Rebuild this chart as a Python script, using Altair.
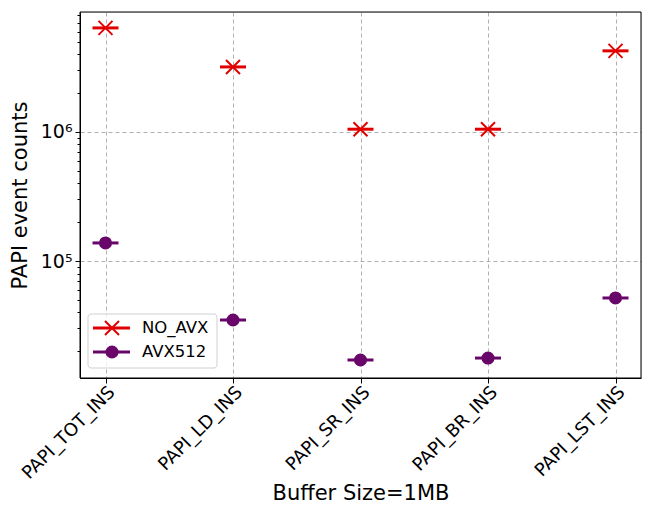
import altair as alt
import pandas as pd

categories = ["PAPI_TOT_INS", "PAPI_LD_INS", "PAPI_SR_INS", "PAPI_BR_INS", "PAPI_LST_INS"]
no_avx = [6.4e6, 3.19e6, 1.05e6, 1.05e6, 4.25e6]
avx512 = [1.38e5, 3.49e4, 1.71e4, 1.77e4, 5.17e4]
series = ["NO_AVX", "AVX512"]
colors = ["#e00000", "#690669"]

major_ticks = [1e5, 1e6]
minor_ticks = [m * 10 ** k for k in (4, 5, 6) for m in range(2, 10) if m * 10 ** k < 8.5e6]
y_domain = [1.24e4, 8.5e6]

rows = []
for c, v in zip(categories, no_avx):
    rows.append({"cat": c, "val": v, "series": series[0]})
for c, v in zip(categories, avx512):
    rows.append({"cat": c, "val": v, "series": series[1]})
df = pd.DataFrame(rows)

W, H = 561, 366
FONT = "DejaVu Sans"

xenc = alt.X("cat:N", sort=categories,
             scale=alt.Scale(type="point", padding=0.2),
             axis=alt.Axis(title="Buffer Size=1MB", labelAngle=-45, labelAlign="right",
                           labelBaseline="top", labelFontSize=18, labelFont=FONT,
                           titleFont=FONT, titleFontSize=21, titleFontWeight="normal",
                           titlePadding=0, titleColor="black", labelColor="black",
                           tickSize=5, tickColor="black", domainColor="black",
                           grid=True, gridColor="#b0b0b0", gridDash=[4, 3], gridWidth=1,
                           labelPadding=0))

test_major = "datum.value == 100000 || datum.value == 1000000"
yenc = alt.Y("val:Q",
             scale=alt.Scale(type="log", domain=y_domain, nice=False),
             axis=alt.Axis(title="PAPI event counts", values=major_ticks + minor_ticks,
                           labelExpr="datum.value == 100000 ? '10⁵' : (datum.value == 1000000 ? '10⁶' : '')",
                           labelFontSize=19, labelFont=FONT, titleFont=FONT, titleFontSize=21,
                           titleFontWeight="normal", titleColor="black", labelColor="black",
                           tickColor="black", domainColor="black", titlePadding=10,
                           tickSize={"condition": {"test": test_major, "value": 5}, "value": 3},
                           grid=True, gridColor="#b0b0b0", gridDash=[4, 3], gridWidth=1,
                           gridOpacity={"condition": {"test": test_major, "value": 1}, "value": 0},
                           labelPadding=3))

color_scale = alt.Scale(domain=series, range=colors)

base = alt.Chart(df)

seg = base.mark_tick(thickness=3, size=26, orient="horizontal", opacity=1).encode(
    x=xenc, y=yenc, color=alt.Color("series:N", scale=color_scale, legend=None))

xpath = "M-1,-1L1,1M-1,1L1,-1"
pts_x = base.transform_filter(alt.datum.series == series[0]).mark_point(
    shape=xpath, size=196, filled=False, strokeWidth=2, opacity=1).encode(
    x=alt.X("cat:N", sort=categories), y="val:Q",
    color=alt.Color("series:N", scale=color_scale, legend=None))
pts_c = base.transform_filter(alt.datum.series == series[1]).mark_point(
    shape="circle", size=170, filled=True, opacity=1).encode(
    x=alt.X("cat:N", sort=categories), y="val:Q",
    color=alt.Color("series:N", scale=color_scale, legend=None))

frame = alt.Chart(pd.DataFrame({"a": [0]})).mark_rect(
    fill=None, fillOpacity=0, stroke="black", strokeWidth=1).encode(
    x=alt.value(0), x2=alt.value(W), y=alt.value(0), y2=alt.value(H))

# legend (manual, inside plot at lower-left)
leg_df = pd.DataFrame({"series": series})
lbase = alt.Chart(leg_df)
box = alt.Chart(pd.DataFrame({"a": [0]})).mark_rect(
    fill="white", fillOpacity=0.8, stroke="#d0d0d0", strokeWidth=1, cornerRadius=3).encode(
    x=alt.value(8), x2=alt.value(137), y=alt.value(302), y2=alt.value(356))
leg_layers = []
for i, s in enumerate(series):
    yy = 316 + i * 24
    d = lbase.transform_filter(alt.datum.series == s)
    leg_layers.append(d.mark_rule(strokeWidth=3, color=colors[i]).encode(
        x=alt.value(13), x2=alt.value(50), y=alt.value(yy)))
    if i == 0:
        leg_layers.append(d.mark_point(shape=xpath, size=196, filled=False, strokeWidth=2,
                                       color=colors[i], opacity=1).encode(
            x=alt.value(32), y=alt.value(yy)))
    else:
        leg_layers.append(d.mark_point(shape="circle", size=170, filled=True,
                                       color=colors[i], opacity=1).encode(
            x=alt.value(32), y=alt.value(yy)))
    leg_layers.append(d.mark_text(align="left", baseline="middle", fontSize=16.5, font=FONT,
                                  color="black").encode(
        x=alt.value(62), y=alt.value(yy), text="series:N"))

chart = alt.layer(seg, pts_x, pts_c, frame, box, *leg_layers).properties(
    width=W, height=H,
    autosize=alt.AutoSizeParams(type="none"),
    padding={"left": 72, "top": 4, "right": 8, "bottom": 128},
).configure_view(stroke="black", strokeWidth=1).configure(background="white")

chart.save("out.html", embed_options={"renderer": "svg", "actions": False})
